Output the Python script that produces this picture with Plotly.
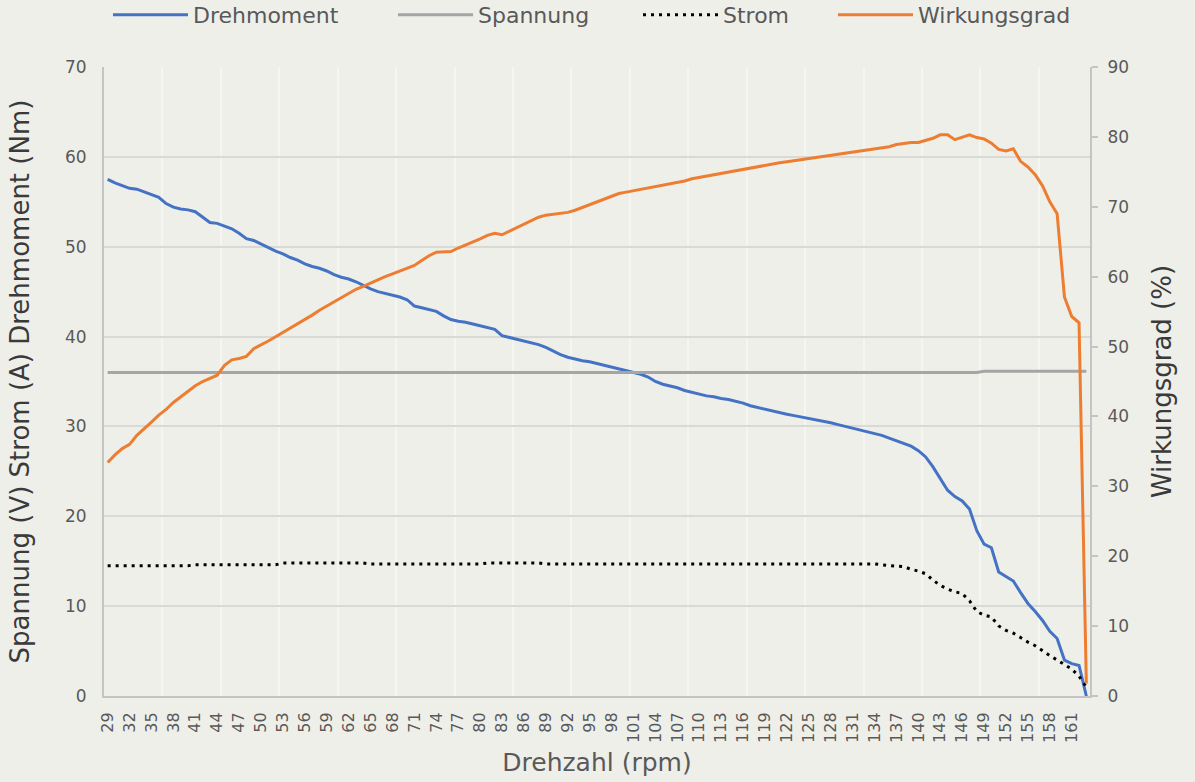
import plotly.graph_objects as go

rpm = list(range(29, 164))

drehmoment = [
    57.5, 57.1, 56.8, 56.5, 56.4, 56.1, 55.8, 55.5, 54.8, 54.4,   # 29-38
    54.2, 54.1, 53.9, 53.3, 52.7, 52.6, 52.3, 52.0, 51.5, 50.9,   # 39-48
    50.7, 50.3, 49.9, 49.5, 49.2, 48.8, 48.5, 48.1, 47.8, 47.6,   # 49-58
    47.3, 46.9, 46.6, 46.4, 46.1, 45.7, 45.3, 45.0, 44.8, 44.6,   # 59-68
    44.4, 44.1, 43.4, 43.2, 43.0, 42.8, 42.3, 41.9, 41.7, 41.6,   # 69-78
    41.4, 41.2, 41.0, 40.8, 40.1, 39.9, 39.7, 39.5, 39.3, 39.1,   # 79-88
    38.8, 38.4, 38.0, 37.7, 37.5, 37.3, 37.2, 37.0, 36.8, 36.6,   # 89-98
    36.4, 36.2, 36.0, 35.8, 35.5, 35.0, 34.7, 34.5, 34.3, 34.0,   # 99-108
    33.8, 33.6, 33.4, 33.3, 33.1, 33.0, 32.8, 32.6, 32.3, 32.1,   # 109-118
    31.9, 31.7, 31.5, 31.35, 31.2, 31.05, 30.9, 30.7, 30.55, 30.4,  # 119-128
    30.2, 30.0, 29.8, 29.6, 29.4, 29.2, 29.0, 28.7, 28.4, 28.1,   # 129-138
    27.8, 27.3, 26.6, 25.5, 24.2, 22.9, 22.2, 21.7, 20.8, 18.4,   # 139-148
    16.9, 16.5, 13.8, 13.3, 12.8, 11.5, 10.3, 9.4, 8.4, 7.2,      # 149-158
    6.4, 4.0, 3.6, 3.4, 0.0,                                      # 159-163
]

spannung = [36.0] * 120 + [36.15] * 15   # 29-148, 149-163

strom = (
    [14.5] * 12 +                      # 29-40
    [14.6] * 12 +                      # 41-52
    [14.8] * 12 +                      # 53-64
    [14.7] * 16 +                      # 65-80
    [14.8] * 8 +                       # 81-88
    [14.7] * 46 +                      # 89-134
    [14.6, 14.5, 14.45, 14.4, 14.1, 13.9, 13.6, 12.9, 12.3, 11.9,   # 135-144
     11.6, 11.4, 10.6, 9.4, 9.0, 8.8, 7.8, 7.3, 7.0, 6.5,           # 145-154
     6.0, 5.6, 5.0, 4.5, 4.0, 3.5, 3.0, 2.2, 1.0]                   # 155-163
)

wirkungsgrad = [
    33.4, 34.5, 35.4, 36.0, 37.3, 38.2, 39.2, 40.2, 41.0, 42.0,   # 29-38
    42.8, 43.7, 44.4, 45.0, 45.4, 45.9, 47.3, 48.1, 48.3, 48.6,   # 39-48
    49.7, 50.2, 50.8, 51.4, 52.0, 52.6, 53.2, 53.8, 54.5, 55.2,   # 49-58
    55.8, 56.4, 57.0, 57.6, 58.2, 58.6, 59.1, 59.6, 60.0, 60.4,   # 59-68
    60.8, 61.2, 61.6, 62.3, 63.0, 63.5, 63.5, 63.6, 64.1, 64.5,   # 69-78
    64.9, 65.4, 65.9, 66.2, 66.0, 66.5, 67.0, 67.5, 68.0, 68.5,   # 79-88
    68.8, 68.9, 69.0, 69.2, 69.5, 69.9, 70.3, 70.7, 71.1, 71.5,   # 89-98
    71.9, 72.1, 72.3, 72.5, 72.6, 72.8, 73.0, 73.2, 73.5, 73.7,   # 99-108
    74.0, 74.2, 74.4, 74.6, 74.8, 75.0, 75.2, 75.4, 75.6, 75.8,   # 109-118
    76.0, 76.2, 76.3, 76.45, 76.6, 76.75, 76.9, 77.05, 77.2, 77.35,  # 119-128
    77.5, 77.7, 77.85, 78.0, 78.15, 78.3, 78.45, 78.6, 78.9, 79.1,  # 129-138
    79.2, 79.2, 79.5, 79.8, 80.3, 80.3, 79.6, 79.9, 80.3, 79.9,   # 139-148
    79.7, 79.1, 78.2, 78.0, 78.3, 76.5, 75.7, 74.6, 73.0, 70.7,   # 149-158
    69.0, 57.1, 54.3, 53.4, 1.8,                                  # 159-163
]

tick_labels = list(range(29, 162, 3))

FONT = "DejaVu Sans, sans-serif"
BG = "#efefea"
TXT = "#595959"
TITLE = "#3a3a3a"

fig = go.Figure()
fig.add_trace(go.Scatter(x=rpm, y=drehmoment, name="Drehmoment", mode="lines",
                         line=dict(color="#4472c4", width=3), legendwidth=195))
fig.add_trace(go.Scatter(x=rpm, y=spannung, name="Spannung", mode="lines",
                         line=dict(color="#a5a5a5", width=3), legendwidth=155))
fig.add_trace(go.Scatter(x=rpm, y=strom, name="Strom", mode="lines",
                         line=dict(color="#000000", width=3, dash="3px,5px"), legendwidth=105))
fig.add_trace(go.Scatter(x=rpm, y=wirkungsgrad, name="Wirkungsgrad", mode="lines",
                         line=dict(color="#ed7d31", width=3), yaxis="y2", legendwidth=170))

fig.update_layout(
    width=1195, height=782,
    paper_bgcolor=BG, plot_bgcolor=BG,
    margin=dict(l=104, r=105, t=67, b=86),
    font=dict(family=FONT, color=TXT),
    showlegend=True,
    legend=dict(orientation="h", x=108 / 1195, xanchor="left", xref="container",
                y=1 - 15 / 782, yanchor="middle", yref="container",
                font=dict(size=22, color=TXT), bgcolor="rgba(0,0,0,0)",
                itemwidth=75, traceorder="normal"),
    xaxis=dict(
        range=[28.5, 163.5], tickmode="array", tickvals=tick_labels,
        ticktext=[str(t) for t in tick_labels], tickangle=-90,
        tickfont=dict(size=16, color=TXT), showgrid=False, zeroline=False,
        showline=True, linecolor="#c4c4c4", linewidth=2, ticks="",
        ticklabelstandoff=8, automargin=False,
        minor=dict(tick0=28.5, dtick=8, showgrid=True, gridcolor="#f5f5f2", gridwidth=1.5, ticks=""),
        title=dict(text="Drehzahl (rpm)", font=dict(size=25, color=TXT), standoff=12),
    ),
    yaxis=dict(
        range=[0, 70], dtick=10, tickfont=dict(size=17, color=TXT),
        showgrid=True, gridcolor="#d9d9d6", gridwidth=1.5, zeroline=False,
        showline=True, linecolor="#c4c4c4", linewidth=2, ticks="",
        ticklabelstandoff=12, automargin=False,
        title=dict(text="Spannung (V) Strom (A) Drehmoment (Nm)", font=dict(size=26, color=TITLE), standoff=28),
    ),
    yaxis2=dict(
        range=[0, 90], dtick=10, overlaying="y", side="right",
        tickfont=dict(size=17, color=TXT), showgrid=False, zeroline=False,
        showline=True, linecolor="#c4c4c4", linewidth=2,
        ticks="outside", ticklen=6, tickcolor="#c4c4c4", tickwidth=2,
        ticklabelstandoff=6, automargin=False,
        title=dict(text="Wirkungsgrad (%)", font=dict(size=26, color=TITLE), standoff=25),
    ),
)

fig.write_html("out.html", config={"displayModeBar": False},
               post_script="document.body.style.margin='0';document.body.style.background='#efefea';")
